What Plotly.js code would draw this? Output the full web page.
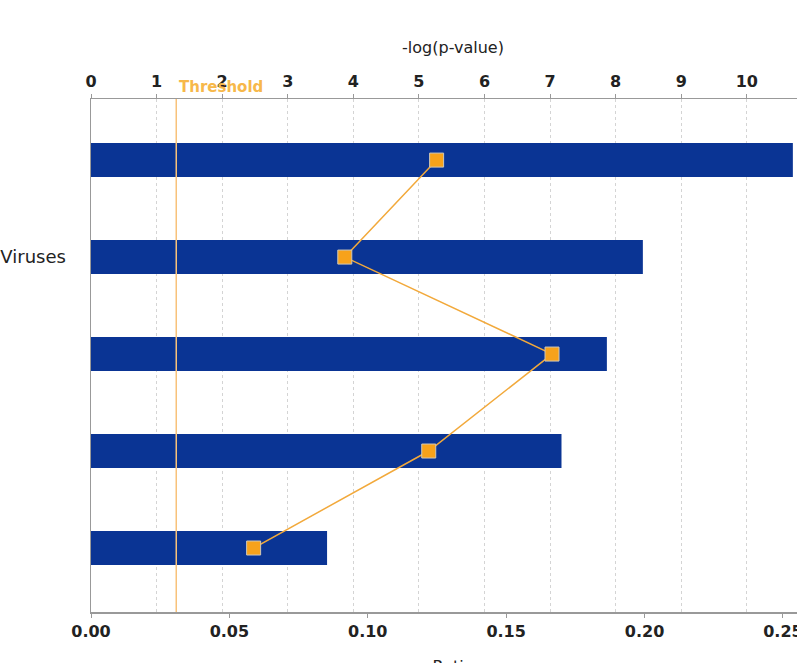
<!DOCTYPE html>
<html>
<head>
<meta charset="utf-8">
<script src="https://cdn.plot.ly/plotly-3.0.1.min.js"></script>
<style>
  html, body { margin: 0; padding: 0; overflow: hidden; background: #fff; }
  #plot { width: 815px; height: 700px; }
</style>
</head>
<body>
<div id="plot"></div>
<script>
// Data
const catPos = [0, 1, 2, 3, 4];
const catLabels = ['', 'Viruses', '', '', ''];
const ratios = [0.2536, 0.1994, 0.1864, 0.170, 0.0853];
const negLogP = [5.27, 3.87, 7.03, 5.15, 2.48];
const threshold = 1.30;
const ratioTicks = [0, 0.05, 0.10, 0.15, 0.20, 0.25];
const pTicks = [0, 1, 2, 3, 4, 5, 6, 7, 8, 9, 10, 11];

const tickFont = { family: 'DejaVu Sans', size: 16, color: '#222', weight: 'bold' };

const traces = [
  {
    type: 'bar', orientation: 'h',
    x: ratios, y: catPos, xaxis: 'x', yaxis: 'y',
    width: 0.35,
    marker: { color: '#0a3494', line: { width: 0 } },
    hoverinfo: 'skip'
  },
  {
    type: 'scatter', mode: 'lines+markers',
    x: negLogP, y: catPos, xaxis: 'x2', yaxis: 'y',
    line: { color: '#f2a93b', width: 1.5 },
    marker: { symbol: 'square', size: 14, color: '#f7a21b', line: { color: '#d0c8b8', width: 1 } },
    hoverinfo: 'skip'
  }
];

const layout = {
  width: 815, height: 700,
  margin: { l: 91, r: 0, t: 99, b: 88 },
  paper_bgcolor: '#fff', plot_bgcolor: '#fff',
  showlegend: false,
  xaxis: {
    range: [0, 0.2616],
    tickvals: ratioTicks, tickformat: '.2f',
    ticks: 'outside', ticklen: 4, tickcolor: '#999',
    showline: true, linecolor: '#999', linewidth: 1.5,
    showgrid: false, zeroline: false,
    tickfont: tickFont,
    title: { text: 'Ratio', font: { family: 'DejaVu Sans', size: 16, color: '#222' }, standoff: 21 }
  },
  xaxis2: {
    overlaying: 'x', side: 'top', anchor: 'y',
    range: [0, 11.04],
    tickvals: pTicks,
    ticks: 'outside', ticklen: 4, tickcolor: '#999',
    showline: true, linecolor: '#999', linewidth: 1.5,
    showgrid: true, gridcolor: '#d4d4d4', griddash: 'dot', gridwidth: 1,
    zeroline: false,
    tickfont: tickFont,
    title: { text: '-log(p-value)', font: { family: 'DejaVu Sans', size: 16, color: '#222' }, standoff: 14 }
  },
  yaxis: {
    range: [4.66, -0.63],
    tickvals: catPos, ticktext: catLabels,
    ticks: '', ticklabelstandoff: 20,
    showline: true, linecolor: '#999', linewidth: 1.5,
    showgrid: false, zeroline: false,
    tickfont: { family: 'DejaVu Sans', size: 18, color: '#222' }
  },
  shapes: [
    {
      type: 'line', xref: 'x2', yref: 'paper',
      x0: threshold, x1: threshold, y0: 0, y1: 1,
      line: { color: '#f8c27a', width: 1.5 }, layer: 'above'
    }
  ],
  annotations: [
    {
      text: 'Threshold', xref: 'x2', yref: 'paper',
      x: threshold, y: 1, xanchor: 'left', yanchor: 'bottom',
      xshift: 1, yshift: 1, showarrow: false,
      font: { family: 'DejaVu Sans', size: 15, color: '#f7b84a', weight: 'bold' }
    }
  ]
};

Plotly.newPlot('plot', traces, layout, { staticPlot: true });
</script>
</body>
</html>
